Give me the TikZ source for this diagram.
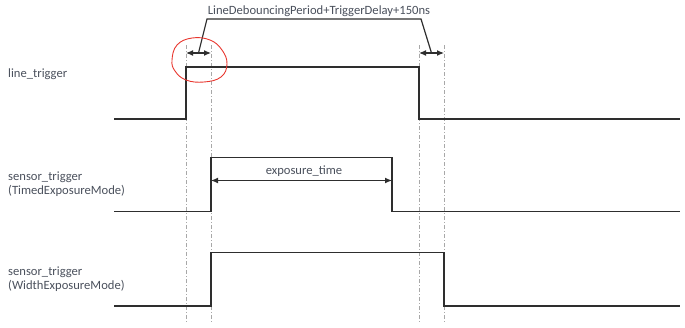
\documentclass[tikz,border=0pt]{standalone}
\usepackage{fontspec}
\setmainfont{Carlito}
\usetikzlibrary{positioning, arrows.meta}
\definecolor{sigLine}{HTML}{2E2E2E}
\definecolor{sigText}{HTML}{4A505C}
\definecolor{sigGuide}{HTML}{A8A8A8}
\definecolor{sigMark}{HTML}{E8362E}

\begin{document}
\begin{tikzpicture}[x=1pt, y=-1pt,
  lbl/.style={font=\fontsize{12.6}{14}\selectfont, text=sigText, align=left, inner sep=0pt, anchor=west},
  sig/.style={draw=sigLine, line width=1.8pt, line join=miter},
  guide/.style={draw=sigGuide, line width=0.6pt, dash pattern=on 4pt off 2pt on 1pt off 2pt},
  arr/.style={{Latex[length=7pt,width=6pt]}-{Latex[length=7pt,width=6pt]}, line width=1.2pt, draw=sigLine},
  leg/.style={draw=sigLine, line width=1.2pt}
]
\useasboundingbox (0,0) rectangle (685,327);

% labels
\node[lbl] (lt) at (8,74) {line\_trigger};
\node[lbl] (stt) at (8,184) {sensor\_trigger\\(TimedExposureMode)};
\node[lbl] (stw) at (8,279) {sensor\_trigger\\(WidthExposureMode)};

% guide lines
\foreach \gx/\gn in {186/a, 211/b, 419/c, 444/d} {
  \coordinate (\gn top) at (\gx,45);
  \coordinate (\gn bot) at (\gx,322);
  \draw[guide] (\gn top) -- (\gn bot);
}

% signals
\draw[sig] (114,119) -- (186,119) -- (186,67) -- (419,67) -- (419,119) -- (680,119);
\draw[sig] (114,211.5) -- (211,211.5) -- (211,157.5) -- (392,157.5) -- (392,211.5) -- (680,211.5);
\draw[sig] (114,306) -- (211,306) -- (211,252.5) -- (444,252.5) -- (444,306) -- (680,306);

% delay markers
\coordinate (d1l) at (186,53);
\coordinate (d1r) at (211,53);
\coordinate (d2l) at (419,53);
\coordinate (d2r) at (444,53);
\draw[arr] (d1l) -- (d1r);
\draw[arr] (d2l) -- (d2r);
\draw[leg] (198.5,53) -- (207,19) -- (421,19) -- (431.5,53);
\node[lbl, anchor=center] (dly) at (319,11) {LineDebouncingPeriod+TriggerDelay+150ns};

% exposure
\coordinate (exl) at (211,180.5);
\coordinate (exr) at (392,180.5);
\draw[arr] (exl) -- (exr);
\node[lbl, anchor=center] (ext) at (304,171) {exposure\_time};

% hand drawn mark
\draw[sigMark, line width=0.9pt] plot[smooth cycle, tension=0.7] coordinates {
  (172,60) (177,45) (192,38) (210,40) (222,50) (227,64) (221,77) (204,82) (186,80) (175,71)};
\end{tikzpicture}
\end{document}
